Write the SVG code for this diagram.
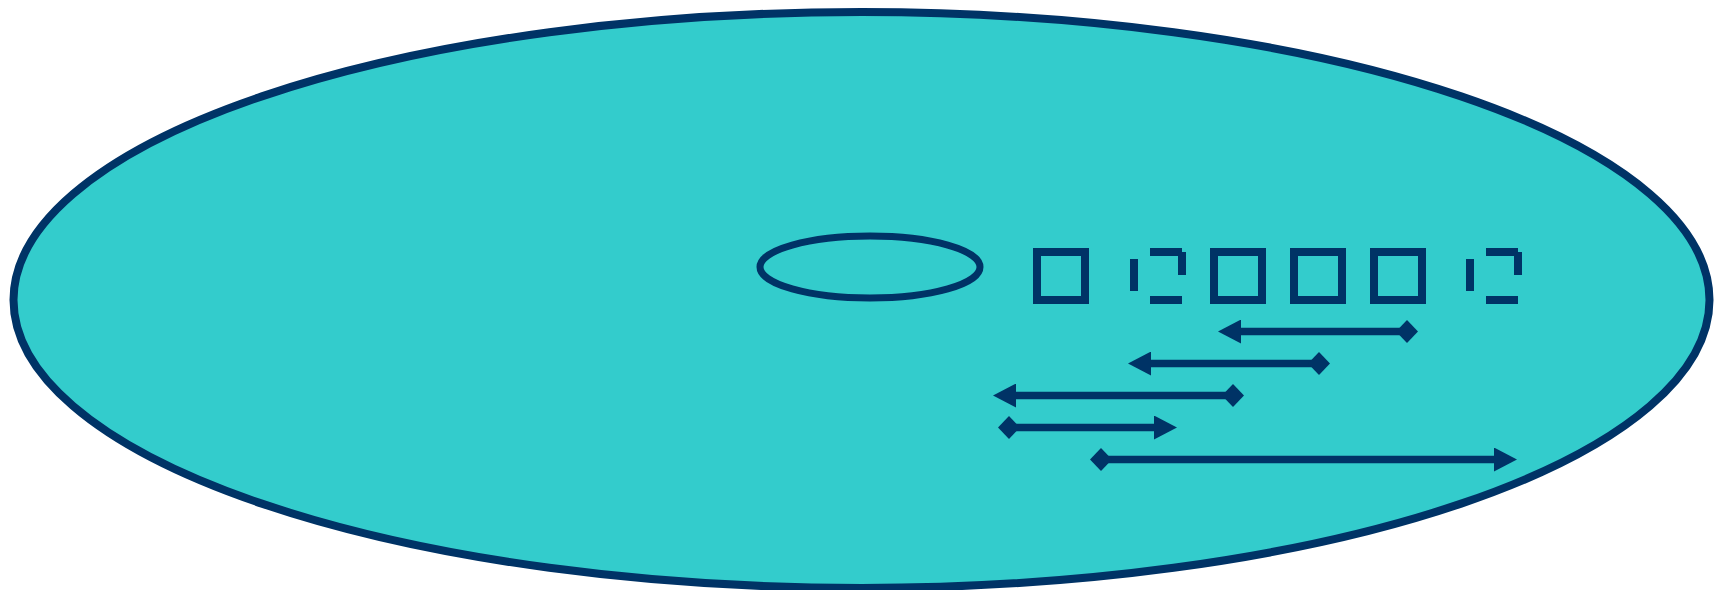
<svg xmlns="http://www.w3.org/2000/svg" width="1723" height="590" viewBox="0 0 1723 590">
<defs>
<style>
.ln{stroke:#003366;stroke-width:7.5;fill:none}
.bx{fill:none;stroke:#003366;stroke-width:8}
.bar{fill:#003366}
</style>
<marker id="tri" viewBox="0 0 23 24" refX="0" refY="12" markerWidth="23" markerHeight="24" markerUnits="userSpaceOnUse" orient="auto"><path d="M0,0 L23,12 L0,24 Z" fill="#003366"/></marker>
<marker id="dia" viewBox="0 0 22 23" refX="11" refY="11.5" markerWidth="22" markerHeight="23" markerUnits="userSpaceOnUse" orient="auto"><path d="M11,0 L22,11.5 L11,23 L0,11.5 Z" fill="#003366"/></marker>
</defs>
<rect width="1723" height="590" fill="#ffffff"/>
<g id="outer"><ellipse cx="861.5" cy="300" rx="848" ry="288" fill="#33cccc" stroke="#003366" stroke-width="8"/></g>
<g id="inner"><ellipse cx="870" cy="267" rx="110" ry="31" fill="none" stroke="#003366" stroke-width="7"/></g>
<g id="label">
<rect class="bx" x="1037" y="252" width="48" height="48"/>
<g transform="translate(1130,0)"><rect class="bar" x="0" y="259" width="8" height="32"/><rect class="bar" x="20" y="248" width="32" height="8"/><rect class="bar" x="48" y="252" width="8" height="23"/><rect class="bar" x="20" y="296" width="32" height="8"/></g>
<rect class="bx" x="1214" y="252" width="48" height="48"/>
<rect class="bx" x="1294" y="252" width="48" height="48"/>
<rect class="bx" x="1374" y="252" width="48" height="48"/>
<g transform="translate(1466,0)"><rect class="bar" x="0" y="259" width="8" height="32"/><rect class="bar" x="20" y="248" width="32" height="8"/><rect class="bar" x="48" y="252" width="8" height="23"/><rect class="bar" x="20" y="296" width="32" height="8"/></g>
</g>
<g id="connectors">
<path class="ln" d="M1407,331.5 H1241" marker-start="url(#dia)" marker-end="url(#tri)"/>
<path class="ln" d="M1319,363.5 H1151" marker-start="url(#dia)" marker-end="url(#tri)"/>
<path class="ln" d="M1233,395.5 H1016" marker-start="url(#dia)" marker-end="url(#tri)"/>
<path class="ln" d="M1009,427.5 H1154" marker-start="url(#dia)" marker-end="url(#tri)"/>
<path class="ln" d="M1101,459.5 H1494" marker-start="url(#dia)" marker-end="url(#tri)"/>
</g>
</svg>
